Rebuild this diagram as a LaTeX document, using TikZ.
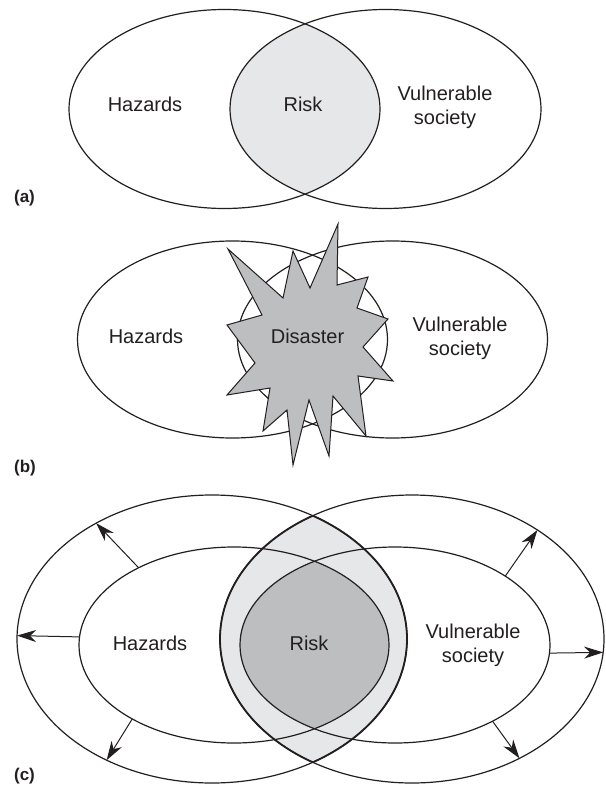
\documentclass[tikz,border=0pt]{standalone}
\usepackage{fontspec}
\setmainfont{Liberation Sans}
\usetikzlibrary{shapes.geometric,arrows.meta}
\definecolor{lightfill}{HTML}{E6E7E8}
\definecolor{darkfill}{HTML}{BCBEC0}
\definecolor{ink}{HTML}{231F20}
\begin{document}
\begin{tikzpicture}[x=1pt,y=-1pt,
  venn/.style={ellipse, draw=ink, line width=1.2pt, inner sep=0pt, outer sep=0pt},
  lbl/.style={font=\fontsize{20}{24}\selectfont, text=ink, align=center, inner sep=0pt},
  panel/.style={font=\bfseries\fontsize{17}{19}\selectfont, text=ink, inner sep=0pt},
  growarrow/.style={draw=ink, line width=1pt, -{Stealth[length=19pt,width=12pt,inset=6pt]}},
]
\fill[white] (0,0) rectangle (605,786);
\useasboundingbox (0,0) rectangle (605,786);

% ---------------- panel (a)
\begin{scope}
  \clip (224.5,109) ellipse [x radius=155.5pt, y radius=99.5pt];
  \fill[lightfill] (385.5,109) ellipse [x radius=155.5pt, y radius=99.5pt];
\end{scope}
\node[venn, minimum width=311pt, minimum height=199pt] (aL) at (224.5,109) {};
\node[venn, minimum width=311pt, minimum height=199pt] (aR) at (385.5,109) {};
\node[lbl, anchor=base] (aHaz) at (145,111.7) {Hazards};
\node[lbl, anchor=base] (aRisk) at (303,111.7) {Risk};
\node[lbl] (aVul) at (445,107.5) {Vulnerable\\society};
\node[panel] (aTag) at (24.5,198.5) {(a)};

% ---------------- panel (b)
\node[venn, minimum width=310pt, minimum height=197pt] (bL) at (232.5,339.5) {};
\node[venn, minimum width=310pt, minimum height=197pt] (bR) at (392.5,339.5) {};
\draw[ink, line width=1pt, fill=darkfill, line join=miter]
  (228,249) -- (283,298) -- (293,251) -- (310,288) -- (338,224) -- (337,285)
  -- (368,277) -- (357,308) -- (388,319) -- (363,347) -- (393,381) -- (358,376)
  -- (366,436) -- (333,396) -- (329,456) -- (309,400) -- (293,465) -- (287,410)
  -- (263,431) -- (270,388) -- (227,395) -- (255,363) -- (227,325) -- (262,315)
  -- cycle;
\node[lbl, anchor=base] (bHaz) at (146,343.3) {Hazards};
\node[lbl, anchor=base] (bDis) at (307.5,343.3) {Disaster};
\node[lbl] (bVul) at (460,338.5) {Vulnerable\\society};
\node[panel] (bTag) at (25,468.5) {(b)};

% ---------------- panel (c)
\begin{scope}
  \clip (212,639) ellipse [x radius=195pt, y radius=144pt];
  \fill[lightfill] (412,639) ellipse [x radius=192pt, y radius=144pt];
\end{scope}
\begin{scope}
  \clip (234,645) ellipse [x radius=155pt, y radius=98pt];
  \fill[darkfill] (395,645) ellipse [x radius=155pt, y radius=98pt];
\end{scope}
\node[venn, minimum width=390pt, minimum height=288pt] (oL) at (212,639) {};
\node[venn, minimum width=384pt, minimum height=288pt] (oR) at (412,639) {};
\node[venn, minimum width=310pt, minimum height=196pt] (iL) at (234,645) {};
\node[venn, minimum width=310pt, minimum height=196pt] (iR) at (395,645) {};
\begin{scope}
  \clip (212,639) ellipse [x radius=195pt, y radius=144pt];
  \draw[ink, line width=1.8pt] (412,639) ellipse [x radius=192pt, y radius=144pt];
\end{scope}
\begin{scope}
  \clip (412,639) ellipse [x radius=192pt, y radius=144pt];
  \draw[ink, line width=1.8pt] (212,639) ellipse [x radius=195pt, y radius=144pt];
\end{scope}
\draw[growarrow] (iL.177) -- (oL.179.4);
\draw[growarrow] (iL.141.2) -- (oL.135.6);
\draw[growarrow] (iL.216.8) -- (oL.229.1);
\draw[growarrow] (iR.32.8) -- (oR.41.9);
\draw[growarrow] (iR.-3.1) -- (oR.-4.3);
\draw[growarrow] (iR.-38.3) -- (oR.-48.7);
\node[lbl, anchor=base] (cHaz) at (150,650) {Hazards};
\node[lbl, anchor=base] (cRisk) at (309,650) {Risk};
\node[lbl] (cVul) at (473,645) {Vulnerable\\society};
\node[panel] (cTag) at (24.5,776.5) {(c)};
\end{tikzpicture}
\end{document}
